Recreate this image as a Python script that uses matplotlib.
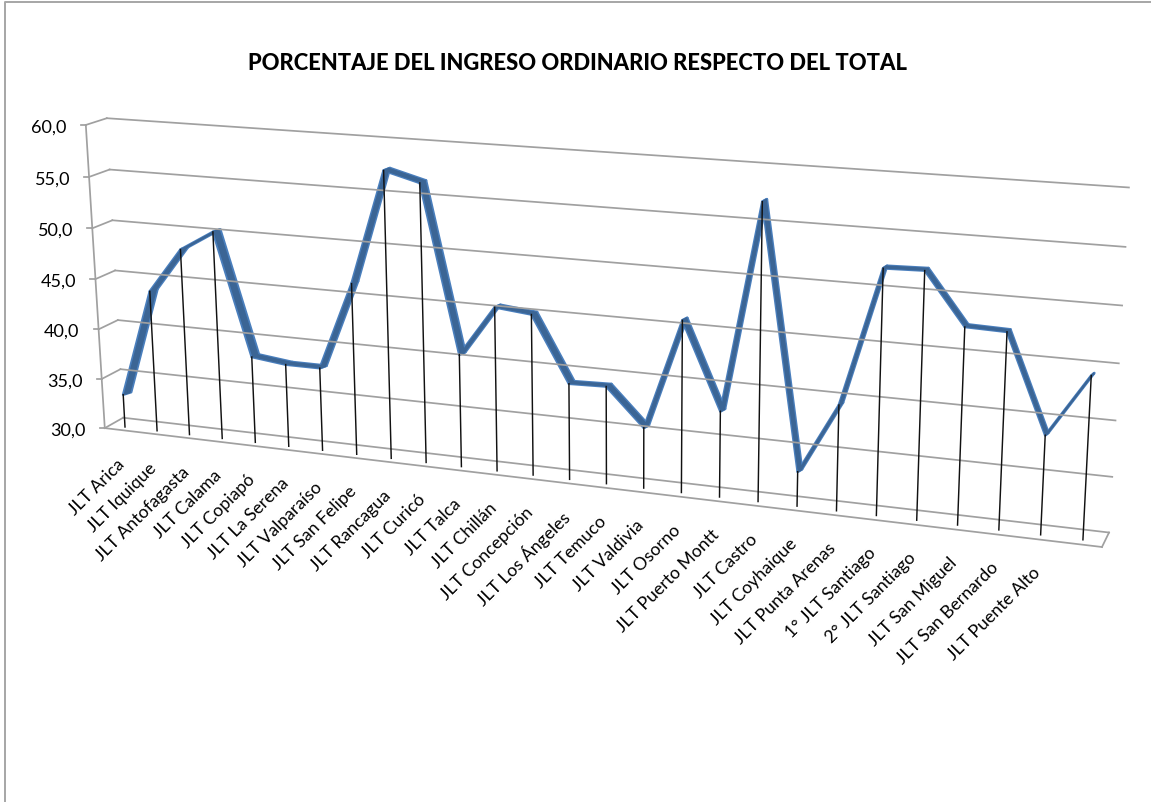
import numpy as np
import matplotlib
matplotlib.use('Agg')
import matplotlib.pyplot as plt
from matplotlib.transforms import Transform

plt.rcParams['font.family'] = ['Lato', 'DejaVu Sans']

# ---- Data ----
categories = ['JLT Arica', 'JLT Iquique', 'JLT Antofagasta', 'JLT Calama', 'JLT Copiapó',
              'JLT La Serena', 'JLT Valparaíso', 'JLT San Felipe', 'JLT Rancagua', 'JLT Curicó',
              'JLT Talca', 'JLT Chillán', 'JLT Concepción', 'JLT Los Ángeles', 'JLT Temuco',
              'JLT Valdivia', 'JLT Osorno', 'JLT Puerto Montt', 'JLT Castro', 'JLT Coyhaique',
              'JLT Punta Arenas', '1° JLT Santiago', '2° JLT Santiago', 'JLT San Miguel',
              'JLT San Bernardo', 'JLT Puente Alto', '']
values = [33.3, 44.0, 48.4, 50.4, 38.5, 38.1, 38.1, 46.6, 57.5, 56.6, 40.8, 45.6, 45.25, 39.1,
          39.2, 35.7, 46.0, 38.0, 57.2, 33.2, 39.7, 52.2, 52.3, 47.7, 47.6, 38.9, 44.5]
y_ticks = [30, 35, 40, 45, 50, 55, 60]
title = 'PORCENTAJE DEL INGRESO ORDINARIO RESPECTO DEL TOTAL'

X0, X1 = -0.5, len(categories) - 0.5


# Excel 3D look: each plane is a homography from (category, value) to pixels
class Plane(Transform):
    input_dims = 2
    output_dims = 2

    def __init__(self, src, dst):
        super().__init__()
        rows, rhs = [], []
        for (x, y), (u, v) in zip(src, dst):
            rows.append([x, y, 1, 0, 0, 0, -u * x, -u * y])
            rows.append([0, 0, 0, x, y, 1, -v * x, -v * y])
            rhs += [u, v]
        h = np.linalg.lstsq(np.array(rows, float), np.array(rhs, float), rcond=None)[0]
        self.matrix = np.append(h, 1).reshape(3, 3)

    def transform_non_affine(self, xy):
        xy = np.asarray(xy, float)
        pts = np.c_[xy, np.ones(len(xy))] @ self.matrix.T
        return pts[:, :2] / pts[:, 2:]


back_wall = Plane(
    [(X0, 60), (X0, 55), (X0, 50), (X0, 45), (X0, 40), (X0, 35), (X0, 30),
     (X1, 60), (X1, 55), (X1, 50), (X1, 45), (X1, 40), (X1, 35), (X1, 30)],
    [(107, 119), (110, 170.7), (111.7, 221), (115, 271.7), (118, 321), (120.7, 371), (123, 418),
     (1129, 188), (1125, 248), (1122, 307), (1119, 364), (1116, 422), (1112, 478), (1109, 533)])
front_wall = Plane(
    [(X0, 60), (X0, 55), (X0, 50), (X0, 45), (X0, 40), (X0, 35), (X0, 30), (X1, 60), (X1, 30)],
    [(86, 126), (89, 177.7), (92, 229), (95, 281), (99, 330), (102.7, 380), (104, 429),
     (1120, 199), (1102, 548)])
line_src = [(X0, 60), (X0, 45), (X0, 30), (X1, 60), (X1, 45), (X1, 30), (0, 30), (12, 30), (26, 30)]
line_dst = np.array([(91.7, 124.1), (100.6, 278), (109.1, 426),
                     (1122.7, 195.7), (1113.3, 372.8), (1104.3, 543),
                     (125, 428), (533, 476.1), (1083, 541)])
line_plane = Plane(line_src, line_dst)
# the ribbon depth shrinks towards the right of the chart
depth = np.array([(8.0, -2.5)] * 3 + [(3.0, -2.5)] * 3 + [(8.0, -2.5), (5.5, -2.5), (3.0, -2.5)])
ribbon_plane = Plane(line_src, line_dst + depth)

fig = plt.figure(figsize=(11.51, 8.03), dpi=100)
ax = fig.add_axes([0, 0, 1, 1])
ax.set_xlim(0, 1151)
ax.set_ylim(803, 0)
ax.set_autoscale_on(False)
ax.axis('off')

GRID = '#a0a0a0'
GRID_LW = 1.25

# outer chart border
ax.plot([5.5, 5.5, 1152], [804, 3, 3], color='#a6a6a6', lw=1.4, clip_on=False)

# --- walls ---
for v in y_ticks:
    ax.plot([X0, X1], [v, v], color=GRID, lw=GRID_LW, transform=back_wall + ax.transData)
    left_front = front_wall.transform(np.array([[X0, v]]))[0]
    left_back = back_wall.transform(np.array([[X0, v]]))[0]
    ax.plot([left_front[0], left_back[0]], [left_front[1], left_back[1]], color=GRID, lw=GRID_LW)
    ax.plot([left_front[0] - 5, left_front[0]], [left_front[1], left_front[1]], color=GRID, lw=GRID_LW)
    ax.text(left_front[0] - 19, left_front[1], f'{v:.1f}'.replace('.', ','),
            ha='right', va='center_baseline', fontsize=13, color='black')

ax.plot([X0, X0], [60, 30], color=GRID, lw=GRID_LW, transform=front_wall + ax.transData)
ax.plot([X0, X1], [30, 30], color=GRID, lw=GRID_LW, transform=front_wall + ax.transData)
floor_right = np.vstack([front_wall.transform(np.array([[X1, 30.0]])),
                         back_wall.transform(np.array([[X1, 30.0]]))])
ax.plot(floor_right[:, 0], floor_right[:, 1], color=GRID, lw=GRID_LW)

# --- ribbon ---
xs = np.arange(len(values), dtype=float)
pts = np.c_[xs, values]
near = line_plane.transform(pts)
far = ribbon_plane.transform(pts)


def band(t0, t1, color, lw):
    a = near + (far - near) * t0
    b = near + (far - near) * t1
    for i in range(len(values) - 1):
        poly = np.vstack([a[i], a[i + 1], b[i + 1], b[i]])
        ax.fill(poly[:, 0], poly[:, 1], facecolor=color, edgecolor=color, lw=lw, joinstyle='round')


band(0.0, 1.0, '#4a7fbd', 1.9)
band(0.15, 0.85, '#3b6595', 1.0)

# --- drop lines ---
for x, v in zip(xs, values):
    ax.plot([x, x], [v, 30], color='#111111', lw=1.05, transform=line_plane + ax.transData)

# --- category labels ---
for x, name in zip(xs, categories):
    ax.annotate(name, xy=(x, 30), xycoords=line_plane + ax.transData,
                xytext=(-3, -34), textcoords='offset pixels',
                ha='right', va='center', rotation=45, rotation_mode='anchor',
                fontsize=12.7, color='black')

ax.text(578, 63, title, ha='center', va='center', fontsize=15.85, fontweight=900, color='black')

fig.savefig('out.png', dpi=100)
